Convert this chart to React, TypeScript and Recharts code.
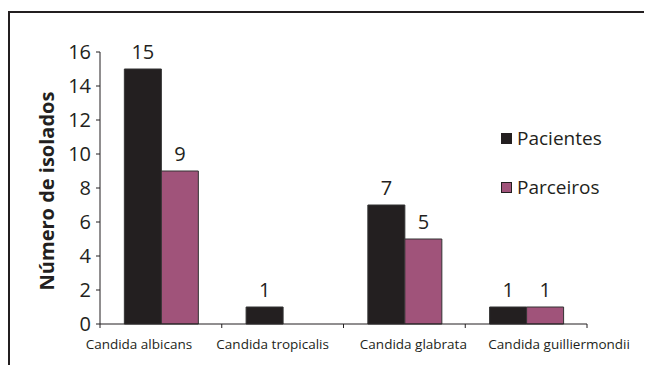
import { Bar, BarChart, LabelList, Legend, XAxis, YAxis } from "recharts";

const CATEGORIES = [
  "Candida albicans",
  "Candida tropicalis",
  "Candida glabrata",
  "Candida guilliermondii",
];
const PACIENTES = [15, 1, 7, 1];
const PARCEIROS = [9, null, 5, 1];
const Y_TICKS = [0, 2, 4, 6, 8, 10, 12, 14, 16];

const SERIES = [
  { key: "pacientes", name: "Pacientes", color: "#231f20" },
  { key: "parceiros", name: "Parceiros", color: "#a0537a" },
];

const data = CATEGORIES.map((name, i) => ({
  name,
  pacientes: PACIENTES[i],
  parceiros: PARCEIROS[i],
}));

const FONT = "'Open Sans', sans-serif";
const INK = "#231f20";
// the source nudges its category labels off-centre
const LABEL_SHIFT = [-22, -10, 9, 33];

function CategoryTick(props: any) {
  const { x, y, payload, index, width, visibleTicksCount } = props;
  const band = width / visibleTicksCount;
  const left = x - band / 2;
  return (
    <g>
      <line x1={left} y1={y} x2={left} y2={y + 4} stroke={INK} />
      {index === visibleTicksCount - 1 && (
        <line x1={left + band} y1={y} x2={left + band} y2={y + 4} stroke={INK} />
      )}
      <text
        x={x + (LABEL_SHIFT[index] || 0)}
        y={y + 25}
        textAnchor="middle"
        fontFamily={FONT}
        fontSize={13.5}
        fill={INK}
      >
        {payload.value}
      </text>
    </g>
  );
}

function LegendBox() {
  return (
    <div style={{ fontFamily: FONT, fontSize: 19, color: INK }}>
      {SERIES.map((s) => (
        <div
          key={s.key}
          style={{ display: "flex", alignItems: "center", height: 49, lineHeight: "49px" }}
        >
          <span
            style={{
              display: "inline-block",
              width: 9,
              height: 9,
              background: s.color,
              border: `1px solid ${INK}`,
              marginRight: 5,
            }}
          />
          {s.name}
        </div>
      ))}
    </div>
  );
}

export default function App() {
  return (
    <div style={{ paddingTop: 3 }}>
      <style>{`html, body { overflow: hidden; }`}</style>
      <div
        style={{
          width: 644,
          height: 354,
          borderTop: `2px solid ${INK}`,
          borderLeft: `2px solid ${INK}`,
          boxSizing: "border-box",
        }}
      >
        <BarChart
          width={642}
          height={352}
          data={data}
          margin={{ top: 39, right: 65, left: 50, bottom: 11 }}
          barCategoryGap="20%"
          barGap={0}
        >
          <XAxis
            dataKey="name"
            height={30}
            tickSize={0}
            tickMargin={0}
            tickLine={false}
            axisLine={{ stroke: INK }}
            tick={<CategoryTick />}
            interval={0}
          />
          <YAxis
            width={40}
            domain={[0, 16]}
            ticks={Y_TICKS}
            interval={0}
            tickSize={4}
            tickMargin={5}
            axisLine={{ stroke: INK }}
            tickLine={{ stroke: INK }}
            tick={{ fontFamily: FONT, fontSize: 20, fill: INK }}
            label={{
              content: ({ viewBox }: any) => {
                const cx = viewBox.x - 14;
                const cy = viewBox.y + viewBox.height / 2 + 3;
                return (
                  <text
                    x={cx}
                    y={cy}
                    transform={`rotate(-90 ${cx} ${cy})`}
                    textAnchor="middle"
                    dominantBaseline="central"
                    fontFamily={FONT}
                    fontWeight="bold"
                    fontSize={20}
                    fill={INK}
                  >
                    Número de isolados
                  </text>
                );
              },
            }}
          />
          <Legend
            layout="vertical"
            align="center"
            verticalAlign="middle"
            wrapperStyle={{ left: 491, top: 101, width: "auto" }}
            content={<LegendBox />}
          />
          {SERIES.map((s) => (
            <Bar
              key={s.key}
              dataKey={s.key}
              name={s.name}
              fill={s.color}
              stroke="#333"
              strokeWidth={1}
              isAnimationActive={false}
            >
              <LabelList
                dataKey={s.key}
                position="top"
                offset={10}
                fontFamily={FONT}
                fontSize={20}
                fill={INK}
                formatter={(v: any) => (v == null ? "" : v)}
              />
            </Bar>
          ))}
        </BarChart>
      </div>
    </div>
  );
}
